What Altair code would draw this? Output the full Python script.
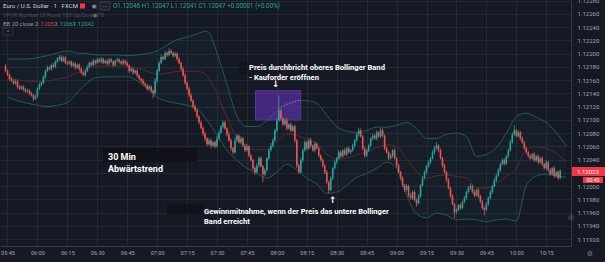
import altair as alt
import pandas as pd
import numpy as np

# ---------------- data (prices as 1e-5 offsets above 1.12000) ----------------
first_open = 181
closes = [
    174, 168, 162, 159, 155, 158, 150, 147, 150, 146,
    143, 144, 140, 137, 132, 135, 147, 153, 156, 165,
    174, 179, 177, 183, 180, 188, 192, 195, 189, 194,
    186, 185, 188, 182, 185, 179, 183, 177, 171, 168,
    174, 180, 186, 183, 189, 186, 191, 188, 192, 186,
    189, 185, 191, 188, 183, 189, 191, 188, 185, 189,
    186, 182, 174, 177, 171, 174, 167, 162, 159, 155,
    152, 147, 150, 144, 140, 159, 174, 186, 195, 192,
    201, 198, 204, 201, 197, 200, 192, 186, 177, 167,
    156, 147, 137, 129, 120, 114, 105, 96, 88, 79,
    72, 63, 69, 61, 66, 60, 72, 81, 90, 96,
    87, 78, 69, 57, 51, 69, 76, 66, 72, 61,
    54, 60, 46, 39, 27, 21, 31, 42, 30, 18,
    24, 42, 54, 61, 69, 84, 99, 114, 102, 93,
    99, 87, 93, 84, 90, 69, 31, 21, 39, 54,
    66, 57, 69, 61, 54, 64, 57, 46, 39, 31,
    21, 6, -6, 12, 27, 36, 42, 51, 45, 54,
    48, 57, 51, 54, 61, 69, 78, 84, 75, 57,
    46, 54, 61, 72, 76, 72, 81, 75, 84, 76,
    57, 51, 42, 46, 54, 42, 31, 21, 12, 1,
    -6, 0, -14, -18, -9, -21, -26, -15, 1, 12,
    21, 30, 36, 42, 51, 57, 61, 54, 42, 31,
    21, 9, -3, -15, -27, -39, -36, -29, -33, -24,
    -18, -9, -3, 0, -9, -14, -6, -15, -24, -33,
    -36, -27, -18, -9, 0, 9, 16, 24, 33, 39,
    34, 45, 54, 66, 78, 84, 76, 81, 72, 66,
    57, 51, 45, 42, 48, 39, 45, 36, 42, 33,
    27, 36, 24, 18, 27, 15, 21, 12, 23,
]
hi_wick = [
    3, 2, 2, 3, 2, 3, 2, 3, 2, 2,
    2, 3, 2, 2, 2, 3, 2, 3, 2, 2,
    2, 3, 2, 2, 3, 2, 3, 3, 2, 3,
    2, 3, 2, 2, 3, 2, 2, 2, 3, 2,
    2, 3, 2, 2, 3, 2, 3, 2, 3, 2,
    2, 3, 2, 3, 2, 2, 3, 2, 2, 3,
    2, 3, 2, 3, 2, 2, 3, 2, 2, 3,
    2, 2, 3, 2, 2, 4, 3, 3, 4, 2,
    3, 2, 4, 3, 2, 3, 2, 3, 2, 3,
    3, 2, 3, 4, 2, 3, 3, 2, 3, 2,
    3, 2, 4, 3, 2, 3, 4, 3, 2, 3,
    3, 2, 4, 3, 2, 4, 3, 2, 3, 2,
    3, 4, 2, 3, 2, 3, 4, 2, 3, 2,
    3, 2, 3, 4, 3, 2, 4, 23, 3, 2,
    3, 4, 2, 3, 2, 3, 2, 3, 4, 3,
    3, 2, 3, 4, 2, 3, 2, 3, 2, 3,
    2, 3, 2, 3, 2, 3, 2, 3, 3, 2,
    3, 2, 3, 2, 3, 2, 3, 4, 3, 2,
    3, 2, 3, 2, 3, 2, 3, 2, 4, 3,
    2, 3, 2, 3, 2, 3, 2, 3, 2, 3,
    2, 3, 2, 3, 2, 3, 2, 3, 2, 3,
    3, 2, 3, 2, 3, 4, 5, 2, 3, 2,
    3, 2, 3, 2, 3, 2, 3, 2, 3, 2,
    3, 2, 3, 4, 2, 3, 2, 3, 2, 3,
    2, 3, 2, 3, 2, 3, 2, 3, 2, 3,
    3, 2, 3, 4, 3, 8, 2, 3, 2, 3,
    2, 3, 2, 3, 2, 3, 2, 3, 2, 3,
    2, 3, 2, 3, 2, 3, 2, 3, 2,
]
lo_wick = [
    2, 2, 3, 2, 2, 2, 3, 2, 2, 3,
    2, 2, 3, 2, 4, 2, 2, 2, 3, 2,
    3, 2, 2, 3, 2, 2, 2, 3, 2, 2,
    2, 3, 2, 3, 2, 3, 2, 3, 2, 2,
    3, 2, 2, 3, 2, 3, 2, 2, 3, 2,
    2, 3, 2, 2, 3, 2, 2, 3, 2, 2,
    3, 2, 3, 2, 3, 2, 3, 2, 3, 2,
    2, 3, 2, 3, 7, 2, 3, 2, 2, 3,
    2, 3, 2, 2, 3, 2, 3, 2, 3, 2,
    3, 2, 3, 2, 3, 2, 3, 3, 2, 3,
    4, 3, 2, 4, 2, 3, 2, 3, 2, 3,
    2, 3, 2, 4, 3, 2, 3, 2, 3, 2,
    3, 2, 3, 2, 3, 4, 2, 3, 2, 12,
    3, 2, 3, 2, 3, 2, 3, 2, 3, 2,
    2, 3, 2, 3, 2, 3, 4, 3, 2, 3,
    2, 3, 2, 3, 2, 3, 2, 3, 2, 3,
    3, 3, 5, 2, 3, 2, 3, 2, 3, 2,
    2, 3, 2, 3, 2, 3, 2, 3, 2, 3,
    3, 2, 3, 2, 3, 2, 3, 2, 3, 2,
    3, 2, 3, 2, 3, 2, 3, 2, 3, 2,
    3, 2, 3, 2, 3, 2, 5, 2, 3, 2,
    2, 3, 2, 3, 2, 3, 2, 3, 2, 3,
    2, 3, 2, 3, 2, 9, 3, 2, 3, 2,
    2, 3, 2, 3, 2, 3, 2, 3, 2, 3,
    8, 2, 3, 2, 3, 2, 3, 2, 3, 2,
    3, 2, 3, 2, 3, 2, 3, 2, 3, 2,
    2, 3, 2, 3, 2, 3, 2, 3, 2, 3,
    2, 3, 2, 3, 2, 3, 2, 3, 2,
]
# Bollinger band (20, 2) read every 5 minutes from 05:45
band_upper = [
    192, 192, 192, 194, 197, 201, 204, 201, 200, 198,
    198, 198, 197, 198, 200, 204, 213, 221, 225, 230,
    234, 201, 153, 106, 90, 90, 99, 114, 125, 129,
    129, 125, 107, 90, 83, 81, 84, 89, 89, 92,
    96, 87, 72, 72, 78, 80, 75, 45, 48, 58,
    80, 105, 110, 104, 96, 81, 61,
]
band_lower = [
    134, 129, 125, 122, 120, 122, 126, 141, 156, 164,
    165, 165, 165, 159, 147, 134, 128, 125, 122, 117,
    99, 77, 54, 39, 27, 19, 12, 21, 33, 24,
    12, 3, -11, -9, 1, 13, 19, 27, 36, 27,
    -14, -42, -48, -41, -44, -51, -50, -51, -54, -51,
    -50, -53, 1, 15, 18, 16, 13,
]
price_ticks = [1.11920, 1.11940, 1.11960, 1.11980, 1.12000, 1.12020, 1.12040,
               1.12060, 1.12080, 1.12100, 1.12120, 1.12140, 1.12160, 1.12180,
               1.12200, 1.12220, 1.12240, 1.12260, 1.12280]
time_ticks = ["05:45", "06:00", "06:15", "06:30", "06:45", "07:00", "07:15",
              "07:30", "07:45", "08:00", "08:15", "08:30", "08:45", "09:00",
              "09:15", "09:30", "09:45", "10:00", "10:15"]

assert len(closes) == len(hi_wick) == len(lo_wick)
assert len(band_upper) == len(band_lower)

BASE, PT = 1.12, 0.00001
DAY = "2021-06-01 "

opens = [first_open] + closes[:-1]
o = np.array(opens, float)
c = np.array(closes, float)
hi = np.maximum(o, c) + np.array(hi_wick)
lo = np.minimum(o, c) - np.array(lo_wick)
candles = pd.DataFrame({
    "t": pd.date_range(DAY + "05:44", periods=len(closes), freq="1min"),
    "open": BASE + o * PT, "close": BASE + c * PT,
    "high": BASE + hi * PT, "low": BASE + lo * PT,
    "dir": np.where(c >= o, "up", "down"),
})
up = np.array(band_upper, float)
lw = np.array(band_lower, float)
bands = pd.DataFrame({
    "t": pd.date_range(DAY + "05:45", periods=len(band_upper), freq="5min"),
    "upper": BASE + up * PT, "lower": BASE + lw * PT,
    "basis": BASE + (up + lw) / 2 * PT,
})
box = pd.DataFrame({"t1": [pd.Timestamp(DAY + "07:49:18")], "t2": [pd.Timestamp(DAY + "08:11:57")],
                    "p1": [1.12100], "p2": [1.12144]})
proj = pd.DataFrame({"t": [pd.Timestamp(DAY + "08:00:40"), pd.Timestamp(DAY + "08:11:30")],
                     "p": [1.12118, 1.12130]})


def dt(hm, s=0):
    h, m = hm.split(":")
    return alt.DateTime(year=2021, month=6, date=1, hours=int(h), minutes=int(m), seconds=s)


GRID = "#232834"
AXC = "#a3a6af"
xscale = alt.Scale(domain=[dt("05:43", 45), dt("10:24", 54)])
yscale = alt.Scale(domain=[1.119095, 1.12281], zero=False, nice=False)
xaxis = alt.Axis(values=[dt(v) for v in time_ticks], format="%H:%M", title=None,
                 labelFontSize=5.6, labelColor=AXC, labelFont="Roboto", ticks=False,
                 domainColor="#363a45", gridColor=GRID, labelPadding=4, labelAlign="center",
                 labelOverlap=False, labelFlush=False, labelBound=False, zindex=0)
yaxis = alt.Axis(orient="right", values=price_ticks, format=".5f", title=None,
                 labelFontSize=6, labelColor=AXC, labelFont="Roboto", ticks=False,
                 domainColor="#363a45", gridColor=GRID, labelPadding=6,
                 labelOverlap=False, labelFlush=False, zindex=0)


def X(f):
    return alt.X(f"{f}:T", scale=xscale, axis=xaxis)


def Y(f):
    return alt.Y(f"{f}:Q", scale=yscale, axis=yaxis)


one = pd.DataFrame({"k": [0]})


def label(text, x, y, size=7, color="#ffffff", weight="bold", align="left", font="Roboto"):
    return alt.Chart(one).mark_text(text=text, fontSize=size, color=color, fontWeight=weight,
                                    align=align, baseline="middle", font=font).encode(
        x=alt.value(x), y=alt.value(y))


def prect(x1, x2, y1, y2, fill, opacity=1.0, stroke=None):
    kw = dict(fill=fill, opacity=opacity)
    if stroke:
        kw.update(stroke=stroke, strokeWidth=0.8)
    return alt.Chart(one).mark_rect(**kw).encode(
        x=alt.value(x1), x2=alt.value(x2), y=alt.value(y1), y2=alt.value(y2))


band_fill = alt.Chart(bands).mark_area(color="#2b8f86", opacity=0.06, interpolate="monotone",
                                       clip=True).encode(x=X("t"), y=Y("upper"), y2="lower")
band_up = alt.Chart(bands).mark_line(color="#1f5d57", strokeWidth=1, interpolate="monotone",
                                     clip=True).encode(x=X("t"), y=Y("upper"))
band_lo = alt.Chart(bands).mark_line(color="#1f5d57", strokeWidth=1, interpolate="monotone",
                                     clip=True).encode(x=X("t"), y=Y("lower"))
band_mid = alt.Chart(bands).mark_line(color="#5e262d", strokeWidth=1, interpolate="monotone",
                                      clip=True).encode(x=X("t"), y=Y("basis"))

purple = alt.Chart(box).mark_rect(fill="#6d35c9", opacity=0.55, stroke="#8c52f2",
                                  strokeWidth=1).encode(x=X("t1"), x2="t2", y=Y("p1"), y2="p2")
proj_line = alt.Chart(proj).mark_line(color="#a77dff", strokeDash=[1, 2], strokeWidth=1).encode(
    x=X("t"), y=Y("p"))

col = alt.Color("dir:N", scale=alt.Scale(domain=["up", "down"], range=["#26a69a", "#ef5350"]),
                legend=None)
wicks = alt.Chart(candles).mark_rule(strokeWidth=0.8, clip=True).encode(
    x=X("t"), y=Y("low"), y2="high", color=col)
bodies = alt.Chart(candles).mark_bar(size=1.6, clip=True).encode(
    x=X("t"), y=Y("open"), y2="close", color=col)

layers = [band_fill, band_up, band_lo, band_mid, purple, proj_line, wicks, bodies,
          # dark text backgrounds
          prect(239, 250, 61, 74, "#0e1015", 0.5),
          prect(103, 197, 148, 162, "#0e1015", 0.85),
          prect(167, 204, 204, 214, "#0e1015", 0.7),
          # annotations
          label("Preis durchbricht oberes Bollinger Band", 249, 68, 7.6),
          label("- Kauforder eröffnen", 249, 78, 7.6),
          label("↓", 272, 84, 9, font="DejaVu Sans"),
          label("30 Min", 108, 157, 9),
          label("Abwärtstrend", 108, 169, 9),
          label("Gewinnmitnahme, wenn der Preis das untere Bollinger", 204, 212, 7.6),
          label("Band erreicht", 204, 222, 7.6),
          label("↑", 329, 200, 9, font="DejaVu Sans"),
          # top-left legend
          label("Euro / U.S. Dollar · 1 · FXCM", 3, 6, 6.1, "#d1d4dc", "normal"),
          prect(80, 85, 3.5, 8.5, "#f23645"),
          label("◉", 94, 6, 6, "#9598a1", "normal", "center", "DejaVu Sans"),
          prect(100, 110, 2, 10, "#1e222d", 1, "#434651"),
          label("···", 105, 6, 6, "#b2b5be", "normal", "center"),
          label("O1.12046 H1.12047 L1.12041 C1.12047 +0.00001 (+0.00%)", 113, 6, 6.3,
                "#26a69a", "normal"),
          label("VPVR Number Of Rows 100 Up/Down 70", 3, 15, 5.6, "#4c505b", "normal"),
          label("◉", 95, 15, 6, "#6a6d78", "normal", "center", "DejaVu Sans"),
          label("BB 20 close 2", 3, 24, 5.8, "#9598a1", "normal"),
          label("1.12052", 36, 24, 5.8, "#c0474d", "normal"),
          label("1.12061", 55, 24, 5.8, "#26a69a", "normal"),
          label("1.12042", 73, 24, 5.8, "#26a69a", "normal"),
          prect(3, 13, 28, 35, "#151924", 1, "#363a45"),
          label("^", 8, 32, 6, "#9598a1", "normal", "center"),
          # price scale labels
          prect(572, 605, 167, 176, "#f23645"),
          label("1.12023", 577, 171.5, 6, "#ffffff", "normal"),
          prect(583, 603, 177, 183, "#f23645"),
          label("00:45", 593, 180, 5.2, "#ffffff", "normal", "center"),
          label("◎", 571, 217, 7, "#787b86", "normal", "center", "DejaVu Sans"),
          label("⚙", 590, 254, 7, "#787b86", "normal", "center", "DejaVu Sans"),
          ]

chart = alt.layer(*layers).properties(
    width=571, height=246, background="#151924",
    padding={"left": 0, "top": 0, "right": 34, "bottom": 16},
    autosize=alt.AutoSizeParams(type="none"),
).configure_view(strokeWidth=0)

chart.save("out.html", embed_options={"renderer": "svg", "actions": False})
